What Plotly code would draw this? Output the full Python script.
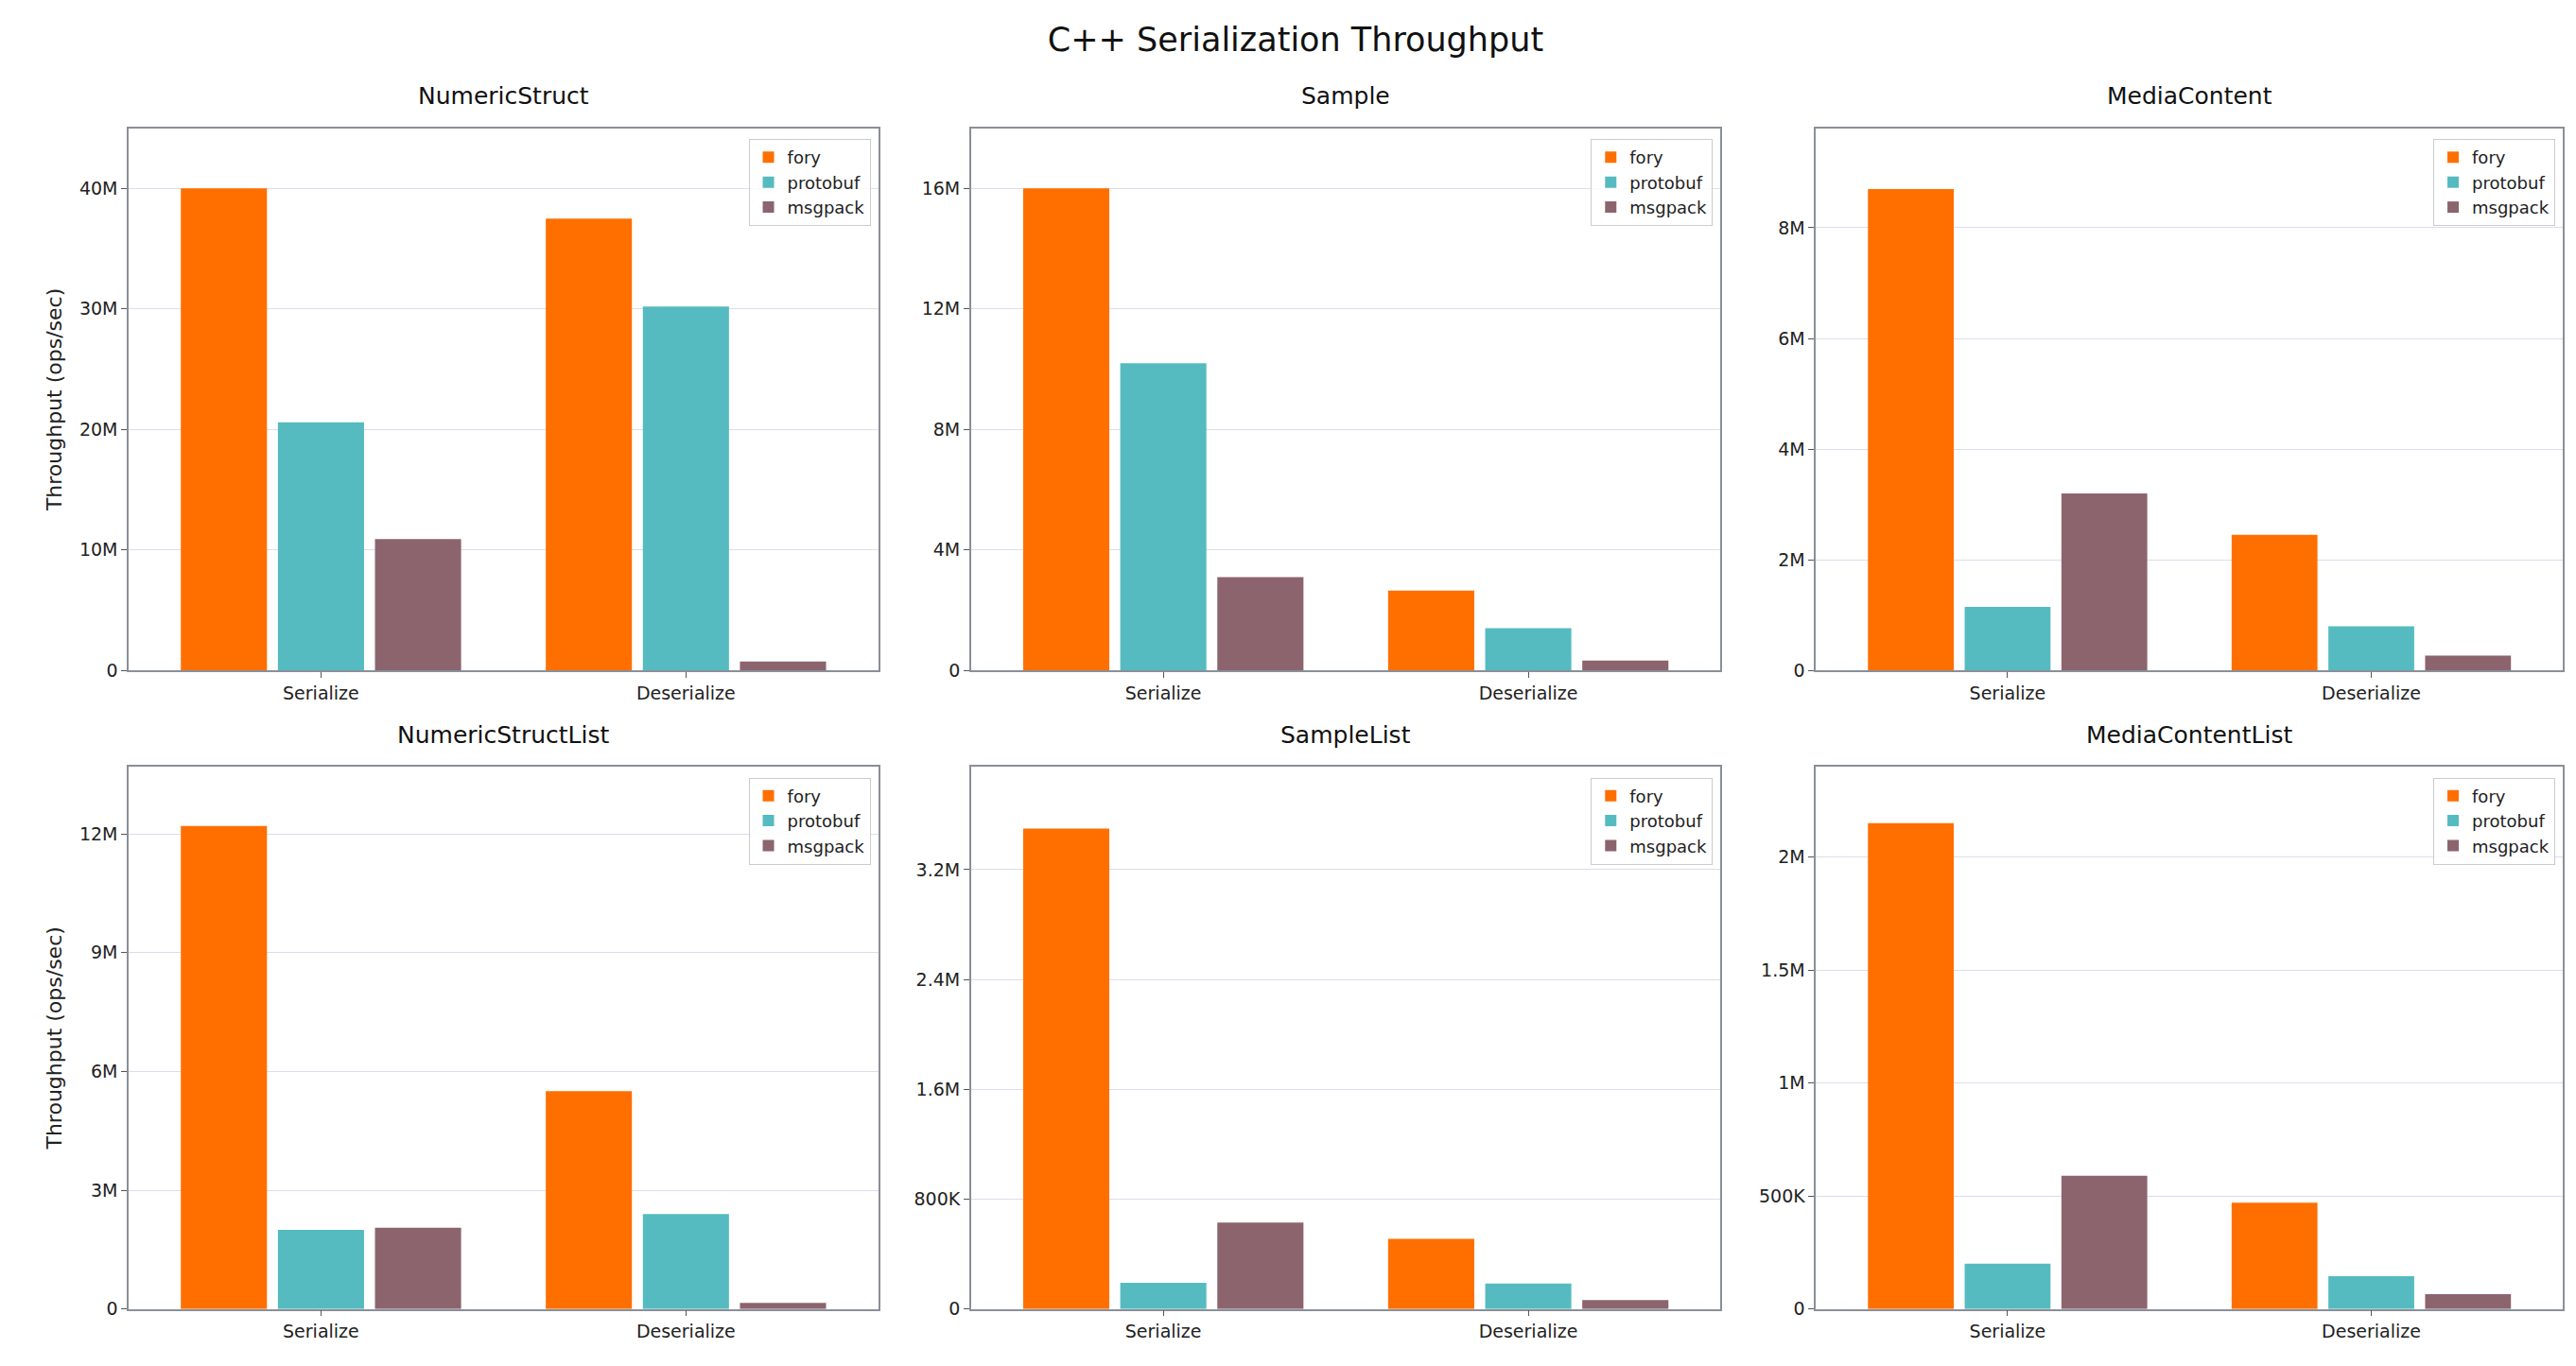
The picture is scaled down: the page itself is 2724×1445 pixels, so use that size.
import plotly.graph_objects as go

panels = ["NumericStruct", "Sample", "MediaContent", "NumericStructList", "SampleList", "MediaContentList"]
ops = ["Serialize", "Deserialize"]
libs = ["fory", "protobuf", "msgpack"]
colors = {"fory": "#FF6F00", "protobuf": "#55BBC0", "msgpack": "#8C646E"}

fory = [[40.0e6, 37.5e6], [16.0e6, 2.65e6], [8.7e6, 2.45e6], [12.2e6, 5.5e6], [3.5e6, 0.51e6], [2.15e6, 0.47e6]]
protobuf = [[20.6e6, 30.2e6], [10.2e6, 1.4e6], [1.15e6, 0.8e6], [2.0e6, 2.4e6], [0.19e6, 0.185e6], [0.2e6, 0.145e6]]
msgpack = [[10.9e6, 0.75e6], [3.1e6, 0.33e6], [3.2e6, 0.27e6], [2.05e6, 0.15e6], [0.63e6, 0.065e6], [0.59e6, 0.065e6]]
data = {"fory": fory, "protobuf": protobuf, "msgpack": msgpack}

ymax = [45e6, 18e6, 9.8e6, 13.7e6, 3.95e6, 2.4e6]
tickvals = [[0, 10e6, 20e6, 30e6, 40e6], [0, 4e6, 8e6, 12e6, 16e6], [0, 2e6, 4e6, 6e6, 8e6],
            [0, 3e6, 6e6, 9e6, 12e6], [0, 0.8e6, 1.6e6, 2.4e6, 3.2e6], [0, 0.5e6, 1e6, 1.5e6, 2e6]]
ticktext = [["0", "10M", "20M", "30M", "40M"], ["0", "4M", "8M", "12M", "16M"], ["0", "2M", "4M", "6M", "8M"],
            ["0", "3M", "6M", "9M", "12M"], ["0", "800K", "1.6M", "2.4M", "3.2M"], ["0", "500K", "1M", "1.5M", "2M"]]

xd = [(0.047, 0.338), (0.374, 0.665), (0.702, 0.992)]
yd = [(0.511, 0.911), (0.040, 0.440)]
offs = {"fory": -0.266, "protobuf": 0.0, "msgpack": 0.266}

fig = go.Figure()
layout = {}
ann = []
for i, name in enumerate(panels):
    r, c = divmod(i, 3)
    sfx = "" if i == 0 else str(i + 1)
    for lib in libs:
        fig.add_trace(go.Bar(
            x=[k + offs[lib] for k in range(len(ops))], y=data[lib][i], width=0.236,
            marker=dict(color=colors[lib], line=dict(width=0)), name=lib,
            xaxis="x" + sfx, yaxis="y" + sfx, legend="legend" + sfx))
    axstyle = dict(showline=True, mirror=True, linecolor="#8a8f99", linewidth=1.5,
                   tickfont=dict(size=19, color="#222"), ticks="outside", tickcolor="#555", ticklen=6)
    layout["xaxis" + sfx] = dict(domain=xd[c], anchor="y" + sfx, range=[-0.527, 1.527],
                                 tickvals=[0, 1], ticktext=ops, showgrid=False, zeroline=False, **axstyle)
    layout["yaxis" + sfx] = dict(domain=yd[r], anchor="x" + sfx, range=[0, ymax[i]],
                                 tickvals=tickvals[i], ticktext=ticktext[i], showgrid=True,
                                 gridcolor="#dcdcec", gridwidth=1, zeroline=False, **axstyle)
    if c == 0:
        layout["yaxis" + sfx]["title"] = dict(text="Throughput (ops/sec)", font=dict(size=22, color="#222"), standoff=12)
    layout["legend" + sfx] = dict(x=xd[c][1] - 0.003, y=yd[r][1] - 0.008, xanchor="right", yanchor="top",
                                  bgcolor="rgba(255,255,255,0.85)", bordercolor="#cccccc", borderwidth=1,
                                  font=dict(size=18, color="#222"), tracegroupgap=0, itemwidth=30)
    ann.append(dict(text=name, x=(xd[c][0] + xd[c][1]) / 2, y=yd[r][1] + 0.012, xref="paper", yref="paper",
                    xanchor="center", yanchor="bottom", showarrow=False, font=dict(size=25, color="#111")))

fig.update_layout(**layout)
fig.update_layout(
    width=2724, height=1445, paper_bgcolor="white", plot_bgcolor="white",
    font=dict(family="DejaVu Sans"), margin=dict(l=0, r=0, t=0, b=0),
    title=dict(text="C++ Serialization Throughput", x=0.5, xanchor="center", y=0.985, yanchor="top",
               font=dict(size=35, color="#111")),
    annotations=ann, barmode="overlay", showlegend=True)
fig.write_html("out.html")
